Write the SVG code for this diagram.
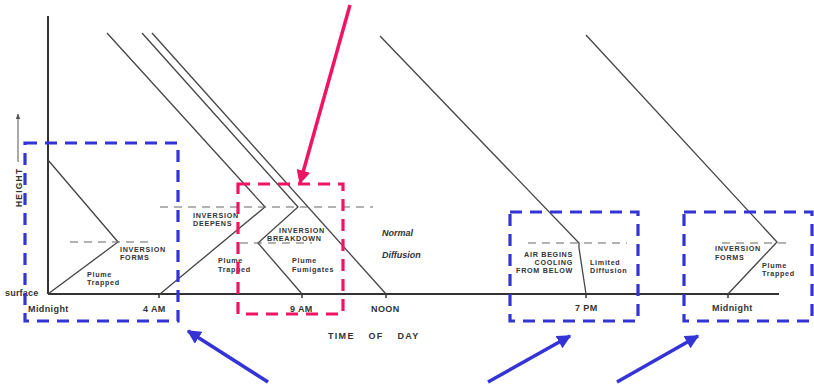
<svg xmlns="http://www.w3.org/2000/svg" width="814" height="386" viewBox="0 0 814 386">
<style>
.ax{stroke:#333;stroke-width:2;fill:none}
.ln{stroke:#444;stroke-width:1.3;fill:none}
.dsh{stroke:#666;stroke-width:1.2;stroke-dasharray:8 6;fill:none}
.tk{stroke:#333;stroke-width:1.5}
.lbl{font-family:"Liberation Sans",Arial,sans-serif;font-weight:bold;font-size:7.2px;letter-spacing:0.7px;fill:#333}
.axl{font-family:"Liberation Sans",Arial,sans-serif;font-weight:bold;font-size:9px;letter-spacing:0.4px;fill:#333}
.it{font-family:"Liberation Sans",Arial,sans-serif;font-weight:bold;font-style:italic;font-size:9px;fill:#333}
.bbox{fill:none;stroke:#3333d6;stroke-width:3.2;stroke-dasharray:12 8}
.pbox{fill:none;stroke:#f01464;stroke-width:3.2;stroke-dasharray:12 8}
.barr{stroke:#3333d6;stroke-width:3.5;fill:none}
.parr{stroke:#f01464;stroke-width:3.5;fill:none}
</style>
<defs>
<marker id="hb" viewBox="0 0 10 10" refX="9" refY="5" markerWidth="4" markerHeight="4" orient="auto" markerUnits="strokeWidth"><path d="M0,0 L10,5 L0,10 z" fill="#3333d6"/></marker>
<marker id="hp" viewBox="0 0 10 10" refX="9" refY="5" markerWidth="4" markerHeight="4" orient="auto" markerUnits="strokeWidth"><path d="M0,0 L10,5 L0,10 z" fill="#f01464"/></marker>
<marker id="ha" viewBox="0 0 10 10" refX="9" refY="5" markerWidth="6" markerHeight="6" orient="auto" markerUnits="strokeWidth"><path d="M0,1 L10,5 L0,9 z" fill="#555"/></marker>
</defs>
<rect width="814" height="386" fill="#fff"/>
<g id="axes">
<line class="ax" x1="48" y1="16" x2="48" y2="294"/>
<line class="ax" x1="48" y1="294" x2="779" y2="294"/>
<line class="tk" x1="159" y1="293" x2="159" y2="298"/>
<line class="tk" x1="302" y1="293" x2="302" y2="298"/>
<line class="tk" x1="386" y1="293" x2="386" y2="298"/>
<line class="tk" x1="586" y1="293" x2="586" y2="298"/>
<line class="tk" x1="728" y1="293" x2="728" y2="298"/>
<line x1="18" y1="162" x2="18" y2="114" stroke="#555" stroke-width="1" marker-end="url(#ha)"/>
<text class="lbl" transform="translate(21.5,207) rotate(-90)" style="font-size:8.5px;letter-spacing:1.2px">HEIGHT</text>
<text class="axl" x="5" y="296" style="font-size:9px;letter-spacing:0.2px">surface</text>
<text class="axl" x="28" y="312">Midnight</text>
<text class="axl" x="143" y="312">4 AM</text>
<text class="axl" x="290" y="312">9 AM</text>
<text class="axl" x="371" y="312">NOON</text>
<text class="axl" x="575" y="311">7 PM</text>
<text class="axl" x="712" y="311">Midnight</text>
<text class="axl" x="328" y="339" style="letter-spacing:1.3px;word-spacing:10px">TIME OF DAY</text>
</g>
<g id="profiles">
<polyline class="ln" points="48,160 118,242 48,294"/>
<polyline class="ln" points="107,33 265,207 160,294"/>
<polyline class="ln" points="142,33 298,207 258,243 302,294"/>
<line class="ln" x1="152" y1="33" x2="386" y2="294"/>
<polyline class="ln" points="380,36 579,243 579,248 586,294"/>
<polyline class="ln" points="586,35 777,242 728,294"/>
<line class="dsh" x1="70" y1="242" x2="153" y2="242"/>
<line class="dsh" x1="160" y1="207" x2="373" y2="207"/>
<line class="dsh" x1="240" y1="243" x2="312" y2="243"/>
<line class="dsh" x1="528" y1="243" x2="627" y2="243"/>
<line class="dsh" x1="722" y1="243" x2="792" y2="243"/>
</g>
<g id="labels">
<text class="lbl" x="120" y="252">INVERSION</text>
<text class="lbl" x="120" y="260">FORMS</text>
<text class="lbl" x="87" y="277">Plume</text>
<text class="lbl" x="87" y="285">Trapped</text>
<text class="lbl" x="193" y="218">INVERSION</text>
<text class="lbl" x="193" y="226">DEEPENS</text>
<text class="lbl" x="279" y="233">INVERSION</text>
<text class="lbl" x="267" y="241">BREAKDOWN</text>
<text class="lbl" x="218" y="263">Plume</text>
<text class="lbl" x="218" y="272">Trapped</text>
<text class="lbl" x="292" y="263">Plume</text>
<text class="lbl" x="292" y="272">Fumigates</text>
<text class="it" x="382" y="236">Normal</text>
<text class="it" x="382" y="258">Diffusion</text>
<text class="lbl" x="573" y="257" text-anchor="end">AIR BEGINS</text>
<text class="lbl" x="573" y="265" text-anchor="end">COOLING</text>
<text class="lbl" x="573" y="273" text-anchor="end">FROM BELOW</text>
<text class="lbl" x="590" y="265">Limited</text>
<text class="lbl" x="590" y="273">Diffusion</text>
<text class="lbl" x="715" y="251">INVERSION</text>
<text class="lbl" x="715" y="259.5">FORMS</text>
<text class="lbl" x="762" y="268">Plume</text>
<text class="lbl" x="762" y="276">Trapped</text>
</g>
<g id="box-midnight"><rect class="bbox" x="25" y="143" width="153" height="178"/></g>
<g id="box-9am"><rect class="pbox" x="238" y="184" width="105" height="130"/></g>
<g id="box-7pm"><rect class="bbox" x="510" y="212" width="128" height="109"/></g>
<g id="box-midnight2"><rect class="bbox" x="684" y="212" width="128" height="109"/></g>
<g id="connectors">
<line class="parr" x1="350" y1="5" x2="300" y2="183" marker-end="url(#hp)"/>
<line class="barr" x1="268" y1="382" x2="188" y2="331" marker-end="url(#hb)"/>
<line class="barr" x1="488" y1="382" x2="570" y2="336" marker-end="url(#hb)"/>
<line class="barr" x1="617" y1="382" x2="698" y2="336" marker-end="url(#hb)"/>
</g>
</svg>
